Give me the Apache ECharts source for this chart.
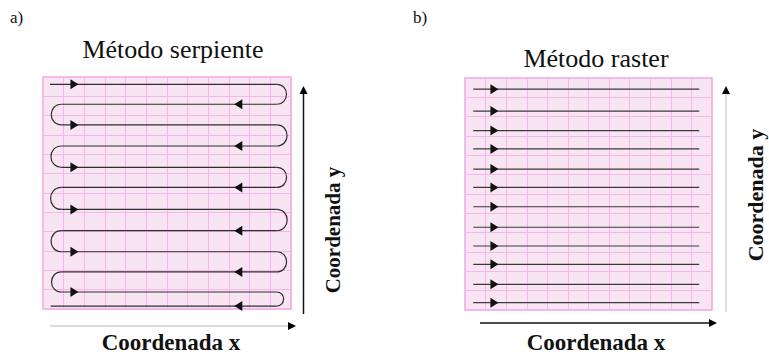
<!DOCTYPE html>
<html><head><meta charset="utf-8">
<script src="https://cdn.jsdelivr.net/npm/echarts@6/dist/echarts.min.js"></script>
<style>html,body{margin:0;padding:0;background:#fff}#c{width:769px;height:354px}</style>
</head><body><div id="c"></div>
<script>
// ---- data (grid units: 12 x 12 cells, y counted from top) ----
const gridCols = 12;
const gridRows = 12;
const serpRowY = [0.38, 1.41, 2.48, 3.57, 4.67, 5.71, 6.85, 7.95, 9.04, 10.08, 11.12, 11.85];
const serpStartX = 0.34;      // first pass start
const serpTurnLeftX = 0.9;    // left U-turn x
const serpTurnRightX = 11.3;  // right U-turn x
const serpEndX = 0.37;        // last pass end
const serpArrowRightX = 1.52;
const serpArrowLeftX = 9.45;
const rasterRowY = [0.58, 1.71, 2.72, 3.67, 4.71, 5.66, 6.66, 7.72, 8.69, 9.64, 10.67, 11.62];
const rasterStartX = 0.4;
const rasterEndX = 11.38;
const rasterArrowX = 1.43;
const panelLabels = ['a)', 'b)'];
const panelTitles = ['Método serpiente', 'Método raster'];
const axisNameX = 'Coordenada x';
const axisNameY = 'Coordenada y';

// ---- build ----
const serpData = serpRowY.map((y, i) => {
  const dir = i % 2 === 0 ? 1 : -1;
  const last = i === serpRowY.length - 1;
  const from = i === 0 ? serpStartX : (dir === 1 ? serpTurnLeftX : serpTurnRightX);
  const to = last ? serpEndX : (dir === 1 ? serpTurnRightX : serpTurnLeftX);
  const nextY = last ? y : serpRowY[i + 1];
  const ax = dir === 1 ? serpArrowRightX : serpArrowLeftX;
  return [from, y, to, nextY, dir, last ? 1 : 0, ax];
});
const rasterData = rasterRowY.map(y => [rasterStartX, y, rasterEndX, rasterArrowX]);

const LINE = '#2e2e2e';
function arrowShape(p, dir) {
  const L = 8, H = 5;
  const base = p[0] - dir * L / 2, tip = p[0] + dir * L / 2;
  return { type: 'polygon', shape: { points: [[base, p[1] - H], [tip, p[1]], [base, p[1] + H]] }, style: { fill: '#111' } };
}
function serpRender(params, api) {
  const from = api.value(0), y = api.value(1), to = api.value(2), ny = api.value(3), dir = api.value(4), last = api.value(5), ax = api.value(6);
  const p1 = api.coord([from, y]), p2 = api.coord([to, y]);
  const children = [{ type: 'line', shape: { x1: p1[0], y1: p1[1], x2: p2[0], y2: p2[1] }, style: { stroke: LINE, lineWidth: 1.2 } }];
  if (!last) {
    const q = api.coord([to, ny]);
    const r = (q[1] - p2[1]) / 2;
    const k = dir * r * 4 / 3;
    children.push({ type: 'bezierCurve', shape: { x1: p2[0], y1: p2[1], cpx1: p2[0] + k, cpy1: p2[1], cpx2: q[0] + k, cpy2: q[1], x2: q[0], y2: q[1] }, style: { stroke: LINE, lineWidth: 1.2, fill: null } });
  }
  children.push(arrowShape(api.coord([ax, y]), dir));
  return { type: 'group', children };
}
function rasterRender(params, api) {
  const p1 = api.coord([api.value(0), api.value(1)]), p2 = api.coord([api.value(2), api.value(1)]);
  return { type: 'group', children: [
    { type: 'line', shape: { x1: p1[0], y1: p1[1], x2: p2[0], y2: p2[1] }, style: { stroke: '#3a3a3a', lineWidth: 1.2 } },
    arrowShape(api.coord([api.value(3), api.value(1)]), 1)
  ] };
}

const PINK_BG = '#f9e4f3', PINK_LINE = '#f4b9ea', PINK_BORDER = '#f1a6e0';
const SERIF = '"Liberation Serif", "DejaVu Serif", serif';
function xAx(i) { return { gridIndex: i, type: 'value', min: 0, max: gridCols, interval: 1, axisLine: { show: false }, axisTick: { show: false }, axisLabel: { show: false }, splitLine: { show: true, lineStyle: { color: PINK_LINE, width: 1 } } }; }
function yAx(i) { return { gridIndex: i, type: 'value', min: 0, max: gridRows, interval: 1, inverse: true, axisLine: { show: false }, axisTick: { show: false }, axisLabel: { show: false }, splitLine: { show: true, lineStyle: { color: PINK_LINE, width: 1 } } }; }

function arrowLine(x1, y1, x2, y2, color) {
  const dx = x2 - x1, dy = y2 - y1, len = Math.hypot(dx, dy), ux = dx / len, uy = dy / len;
  const hl = 8, hw = 4;
  const bx = x2 - ux * hl, by = y2 - uy * hl;
  return [
    { type: 'line', shape: { x1, y1, x2: bx, y2: by }, style: { stroke: color, lineWidth: 1.5 } },
    { type: 'polygon', shape: { points: [[x2, y2], [bx - uy * hw, by + ux * hw], [bx + uy * hw, by - ux * hw]] }, style: { fill: '#000' } }
  ];
}

const chart = echarts.init(document.getElementById('c'), null, { renderer: 'svg' });
chart.setOption({
  animation: false,
  title: [
    { text: panelTitles[0], left: 168, top: 31, textAlign: 'center', textStyle: { fontFamily: SERIF, fontWeight: 'normal', fontSize: 26, color: '#111' } },
    { text: panelTitles[1], left: 591, top: 40, textAlign: 'center', textStyle: { fontFamily: SERIF, fontWeight: 'normal', fontSize: 26, color: '#111' } }
  ],
  grid: [
    { left: 43, top: 77, width: 248, height: 232, show: true, backgroundColor: PINK_BG, borderColor: PINK_BORDER, borderWidth: 1.5 },
    { left: 465, top: 78, width: 247, height: 232, show: true, backgroundColor: PINK_BG, borderColor: PINK_BORDER, borderWidth: 1.5 }
  ],
  xAxis: [xAx(0), xAx(1)],
  yAxis: [yAx(0), yAx(1)],
  series: [
    { type: 'custom', xAxisIndex: 0, yAxisIndex: 0, clip: false, renderItem: serpRender, data: serpData },
    { type: 'custom', xAxisIndex: 1, yAxisIndex: 1, clip: false, renderItem: rasterRender, data: rasterData }
  ],
  graphic: [
    ...arrowLine(50, 326, 296, 326, '#cfcfcf'),
    ...arrowLine(303.5, 314, 303.5, 86, '#111'),
    ...arrowLine(480, 323, 717, 323, '#111'),
    ...arrowLine(726, 312, 726, 86, '#d5d5d5'),
    { type: 'text', left: 10, top: 9, style: { text: panelLabels[0], font: '17px ' + SERIF, fill: '#111' } },
    { type: 'text', left: 413, top: 9, style: { text: panelLabels[1], font: '17px ' + SERIF, fill: '#111' } },
    { type: 'text', x: 171, y: 342, style: { text: axisNameX, font: 'bold 23px ' + SERIF, fill: '#111', textAlign: 'center', textVerticalAlign: 'middle' } },
    { type: 'text', x: 596, y: 342, style: { text: axisNameX, font: 'bold 23px ' + SERIF, fill: '#111', textAlign: 'center', textVerticalAlign: 'middle' } },
    { type: 'text', x: 333, y: 230, rotation: Math.PI / 2, style: { text: axisNameY, font: 'bold 21px ' + SERIF, fill: '#111', textAlign: 'center', textVerticalAlign: 'middle' } },
    { type: 'text', x: 755, y: 195, rotation: Math.PI / 2, style: { text: axisNameY, font: 'bold 22px ' + SERIF, fill: '#111', textAlign: 'center', textVerticalAlign: 'middle' } }
  ]
});
</script></body></html>
